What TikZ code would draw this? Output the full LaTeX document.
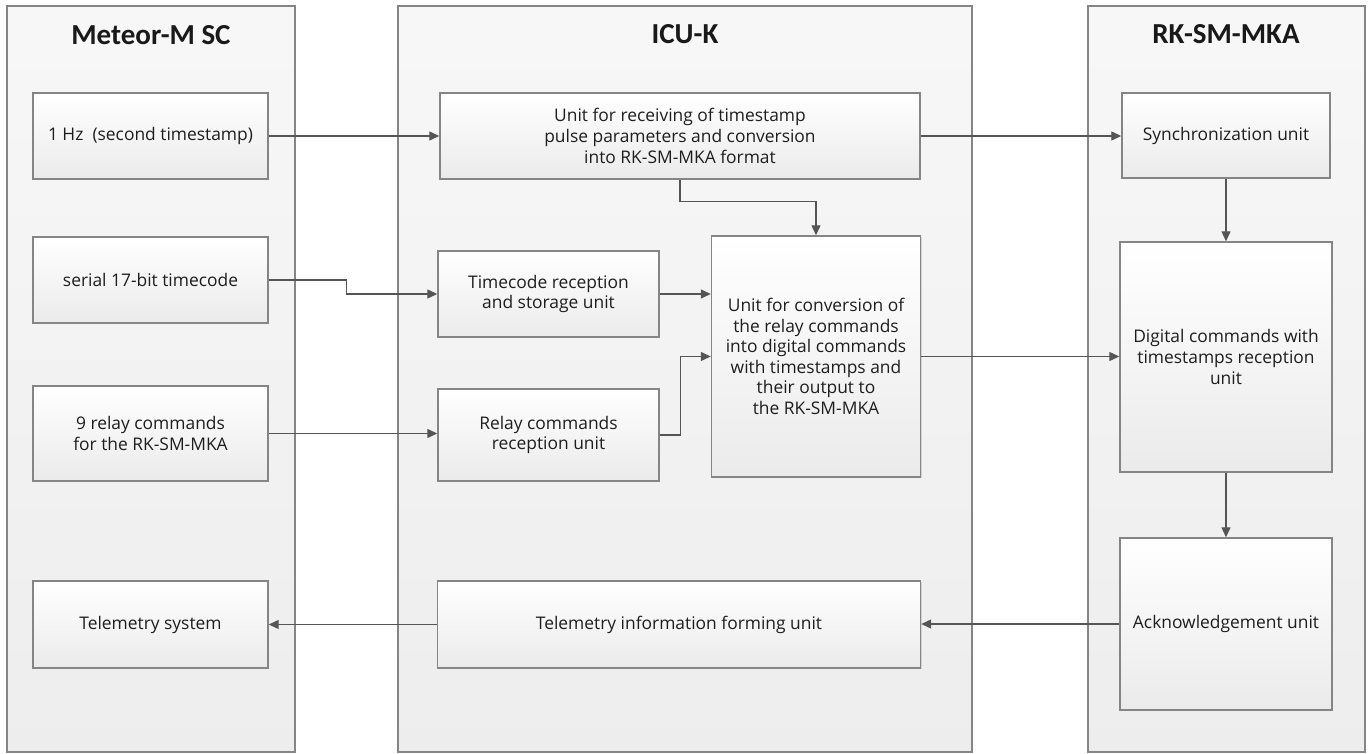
\documentclass[tikz,border=0pt]{standalone}
\usepackage{fontspec}
\setmainfont{Open Sans}
\newfontfamily\titlefont{Carlito}
\usetikzlibrary{arrows.meta,shadows}
\definecolor{edgec}{HTML}{858585}
\definecolor{wirec}{HTML}{555555}
\definecolor{txtc}{HTML}{1E1E1E}
\begin{document}
\begin{tikzpicture}[x=1pt,y=-1pt,
  panel/.style={draw=edgec, line width=1.3pt, top color=white!97!black, bottom color=white!93!black, inner sep=0pt},
  box/.style={draw=edgec, line width=1.4pt, top color=white, bottom color=white!92!black, align=center, inner sep=2pt, text=txtc,
    font=\fontsize{17.4}{20.6}\selectfont, drop shadow={opacity=0.25, shadow xshift=1pt, shadow yshift=-1pt}},
  wire/.style={draw=wirec, line width=1.2pt, -{Triangle[length=10pt,width=9pt]}},
  ttl/.style={font=\titlefont\bfseries\fontsize{29}{32}\selectfont, text=black!90}
]
\useasboundingbox (0,0) rectangle (1370,754);
% panels
\node[panel, minimum width=288pt, minimum height=746pt] (pL) at (151,379) {};
\node[panel, minimum width=574pt, minimum height=746pt] (pM) at (685,379) {};
\node[panel, minimum width=277pt, minimum height=746pt] (pR) at (1226.5,379) {};
% titles
\node[ttl] (tL) at (151,35) {Meteor-M SC};
\node[ttl] (tM) at (685,34) {ICU-K};
\node[ttl] (tR) at (1226,34) {RK-SM-MKA};
% left boxes
\node[box, minimum width=235pt, minimum height=86pt] (hz) at (150.5,136) {1 Hz\ \ (second timestamp)};
\node[box, minimum width=235pt, minimum height=86pt] (ser) at (150.5,280) {serial 17-bit timecode};
\node[box, minimum width=235pt, minimum height=95pt] (rly) at (150.5,433.5) {9 relay commands\\for the RK-SM-MKA};
\node[box, minimum width=235pt, minimum height=87pt] (tms) at (150.5,624.5) {Telemetry system};
% middle boxes
\node[box, minimum width=480pt, minimum height=86pt] (rcv) at (680,136) {Unit for receiving of timestamp\\pulse parameters and conversion\\into RK-SM-MKA format};
\node[box, minimum width=221pt, minimum height=86pt] (tcu) at (548.5,294) {Timecode reception\\and storage unit};
\node[box, minimum width=221pt, minimum height=92pt] (rcu) at (548.5,435) {Relay commands\\reception unit};
\node[box, minimum width=209pt, minimum height=241pt] (cnv) at (816,356.5) {Unit for conversion of\\the relay commands\\into digital commands\\with timestamps and\\their output to\\the RK-SM-MKA};
\node[box, minimum width=483pt, minimum height=87pt] (tfu) at (679,624.5) {Telemetry information forming unit};
% right boxes
\node[box, minimum width=208pt, minimum height=85pt] (syn) at (1226,135.5) {Synchronization unit};
\node[box, minimum width=212pt, minimum height=230pt] (dcr) at (1226,357) {Digital commands with\\timestamps reception\\unit};
\node[box, minimum width=212pt, minimum height=172pt] (ack) at (1226,624) {Acknowledgement unit};
% connectors
\draw[wire] (hz.east) -- (rcv.west);
\draw[wire] (rcv.east) -- (rcv.east -| syn.west);
\draw[wire] (rcv.south) -- ++(0,22) -| (cnv.north);
\draw[wire] (ser.east) -- ++(78,0) |- (tcu.west);
\draw[wire] (tcu.east) -- (tcu.east -| cnv.west);
\draw[wire] (rly.east) -- (rly.east -| rcu.west);
\draw[wire] (rcu.east) -- ++(21,0) |- (cnv.west);
\draw[wire] (cnv.east) -- (cnv.east -| dcr.west);
\draw[wire] (syn.south) -- (dcr.north);
\draw[wire] (dcr.south) -- (ack.north);
\draw[wire] (ack.west) -- (ack.west -| tfu.east);
\draw[wire] (tfu.west) -- (tms.east);
\end{tikzpicture}
\end{document}
